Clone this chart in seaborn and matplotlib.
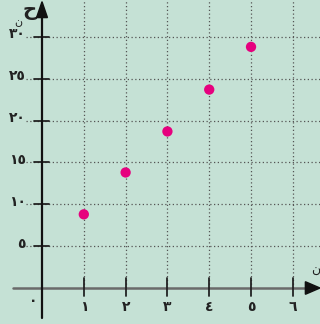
import matplotlib
matplotlib.use("Agg")
import matplotlib.pyplot as plt
import seaborn as sns
import pandas as pd
from matplotlib.patches import Polygon

x_vals = [1, 2, 3, 4, 5]
y_vals = [8.8, 13.8, 18.7, 23.7, 28.8]
x_ticks = [1, 2, 3, 4, 5, 6]
x_tick_labels = ["١", "٢", "٣", "٤", "٥", "٦"]
y_ticks = [5, 10, 15, 20, 25, 30]
y_tick_labels = ["٥", "١٠", "١٥", "٢٠", "٢٥", "٣٠"]

sns.set_theme(style="white")
plt.rcParams['font.family'] = ['DejaVu Sans']

bg = "#c5e1d5"
fig = plt.figure(figsize=(3.2, 3.24), dpi=100, facecolor=bg)
ax = fig.add_axes([0, 0, 1, 1])
ax.set_facecolor(bg)

XL = (-1.005, 6.65)
YL = (-4.3, 34.4)
ax.set_xlim(*XL)
ax.set_ylim(*YL)

grid_kw = dict(color="#555555", lw=0.9, ls=(0, (1, 2)), zorder=1)
for yt, lab in zip(y_ticks, y_tick_labels):
    ax.plot([-0.38, XL[1]], [yt, yt], **grid_kw)
    ax.plot([-0.2, 0.17], [yt, yt], color="#222222", lw=1.3, zorder=3)
    ax.text(-0.39, yt + 0.3, lab, ha="right", va="center", fontsize=10,
            fontweight="bold", color="#222222")
for xt, lab in zip(x_ticks, x_tick_labels):
    ax.plot([xt, xt], [0, YL[1]], **grid_kw)
    ax.plot([xt, xt], [-1.0, 1.2], color="#222222", lw=1.3, zorder=3)
    ax.text(xt, -2.3, lab, ha="center", va="center", fontsize=10,
            fontweight="bold", color="#222222")

ax.plot([-0.69, 6.4], [0, 0], color="#6a6a6a", lw=1.8, zorder=2)
ax.plot([0, 0], [-3.6, 32.5], color="#111111", lw=1.6, zorder=3)
ax.add_patch(Polygon([[6.65, 0], [6.3, 0.75], [6.3, -0.75]], closed=True,
                     color="#111111", zorder=4))
ax.add_patch(Polygon([[0, 34.2], [-0.13, 32.3], [0.13, 32.3]], closed=True,
                     color="#111111", zorder=4))

ax.text(-0.3, 33.1, "ح", ha="center", va="center", fontsize=14,
        fontweight="bold", color="#222222")
ax.text(-0.57, 31.8, "ن", ha="center", va="center", fontsize=8,
        color="#222222")
ax.text(6.55, 2.1, "ن", ha="center", va="center", fontsize=9,
        color="#222222")
ax.text(-0.2, -1.5, "٠", ha="center", va="center", fontsize=10,
        fontweight="bold", color="#222222")

df = pd.DataFrame({"x": x_vals, "y": y_vals})
sns.scatterplot(data=df, x="x", y="y", ax=ax, s=55, color="#e6007e",
                edgecolor="none", zorder=5)

ax.set_xlabel("")
ax.set_ylabel("")
ax.set_xticks([])
ax.set_yticks([])
for s in ax.spines.values():
    s.set_visible(False)

fig.savefig("out.png", dpi=100, facecolor=bg)
